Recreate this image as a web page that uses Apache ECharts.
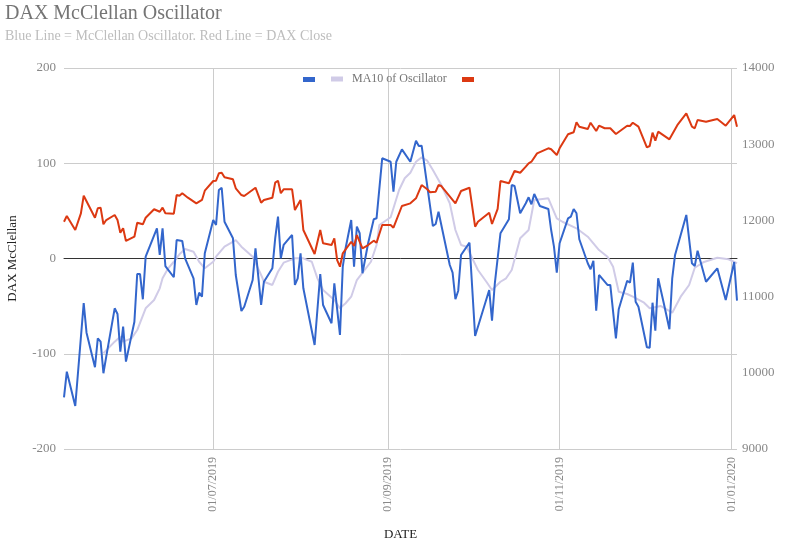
<!DOCTYPE html>
<html><head><meta charset="utf-8">
<script src="https://cdn.jsdelivr.net/npm/echarts@6/dist/echarts.min.js"></script>
<style>html,body{margin:0;padding:0;background:#fff}#c{width:786px;height:548px}</style>
</head><body><div id="c"></div>
<script>
const oscDates = [
'2019-05-09','2019-05-10','2019-05-13','2019-05-16','2019-05-17','2019-05-20','2019-05-21','2019-05-22','2019-05-23','2019-05-24',
'2019-05-27','2019-05-28','2019-05-29','2019-05-30','2019-05-31','2019-06-03','2019-06-04','2019-06-05','2019-06-06','2019-06-07',
'2019-06-11','2019-06-12','2019-06-13','2019-06-14','2019-06-17','2019-06-18','2019-06-20','2019-06-21','2019-06-24','2019-06-25',
'2019-06-26','2019-06-27','2019-06-28','2019-07-01','2019-07-02','2019-07-03','2019-07-04','2019-07-05','2019-07-08','2019-07-09',
'2019-07-11','2019-07-12','2019-07-15','2019-07-16','2019-07-18','2019-07-19','2019-07-22','2019-07-23','2019-07-24','2019-07-25',
'2019-07-26','2019-07-29','2019-07-30','2019-07-31','2019-08-01','2019-08-02','2019-08-06','2019-08-08','2019-08-09','2019-08-12',
'2019-08-13','2019-08-15','2019-08-16','2019-08-17','2019-08-19','2019-08-20','2019-08-21','2019-08-22','2019-08-23','2019-08-25',
'2019-08-27','2019-08-28','2019-08-30','2019-09-02','2019-09-03','2019-09-04','2019-09-06','2019-09-09','2019-09-11','2019-09-12',
'2019-09-13','2019-09-17','2019-09-18','2019-09-19','2019-09-23','2019-09-24','2019-09-25','2019-09-26','2019-09-27','2019-09-30',
'2019-10-02','2019-10-07','2019-10-08','2019-10-09','2019-10-11','2019-10-14','2019-10-15','2019-10-16','2019-10-18','2019-10-20',
'2019-10-21','2019-10-22','2019-10-23','2019-10-25','2019-10-28','2019-10-29','2019-10-30','2019-10-31','2019-11-01','2019-11-04',
'2019-11-05','2019-11-06','2019-11-07','2019-11-08','2019-11-11','2019-11-12','2019-11-13','2019-11-14','2019-11-15','2019-11-18',
'2019-11-19','2019-11-21','2019-11-22','2019-11-25','2019-11-26','2019-11-27','2019-11-28','2019-11-29','2019-12-02','2019-12-03',
'2019-12-04','2019-12-05','2019-12-06','2019-12-08','2019-12-10','2019-12-11','2019-12-12','2019-12-16','2019-12-18','2019-12-19',
'2019-12-20','2019-12-23','2019-12-27','2019-12-30','2020-01-02','2020-01-03'
];
const oscValues = [
-145.7,-118.8,-154.9,-46.7,-77.9,-114.2,-83.8,-87.3,-120.5,-103.1,
-52.3,-58.3,-97.8,-71.6,-108.3,-66.4,-16.3,-16.3,-42.8,1.9,
31.7,3.7,31.7,-7.9,-19.7,19.4,18.4,0.2,-20.8,-48.8,
-35.9,-40.1,5.5,40.4,35.2,71.9,74.3,38.6,21.2,-17.3,
-55.1,-50.6,-22.6,10.7,-48.8,-24.4,-10.3,21.2,43.9,0.2,
14.2,24.7,-27.8,-20.8,5.5,-31.3,-90.8,-16.3,-48.8,-68,
-26,-80.3,-8.6,10.8,40.4,-8.6,33.4,26.5,-15.5,16,
41.2,42.2,105.2,101.6,70.1,101.6,114.6,101.6,123.7,118.1,
118.4,34.1,36.2,49.1,-6.8,-14.9,-42.8,-33.8,3.7,16.6,
-81.4,-33.1,-65.3,-26,26.5,41.2,77.2,76.1,47.5,58,
64.3,56.9,67.7,55.1,52,29.9,12.4,-14.9,16,42.2,
43.9,52,47.5,20.2,-5,-11.3,-2.3,-54.8,-17.3,-27.8,
-27.8,-83.8,-53.3,-23.3,-25.4,-4.4,-45.4,-50.6,-93.2,-93.6,
-46.4,-75.8,-20.8,-47,-74.3,-20.8,3.7,45.7,-5,-7.9,
8.2,-24.4,-10.3,-43.6,-3.7,-44.3
];
const maDates = [
'2019-05-23','2019-05-27','2019-05-29','2019-05-30','2019-06-02','2019-06-04','2019-06-07','2019-06-10','2019-06-12','2019-06-13',
'2019-06-15','2019-06-17','2019-06-19','2019-06-21','2019-06-24','2019-06-26','2019-06-28','2019-07-01','2019-07-02','2019-07-05',
'2019-07-09','2019-07-11','2019-07-15','2019-07-18','2019-07-19','2019-07-22','2019-07-24','2019-07-26','2019-07-30','2019-08-02',
'2019-08-05','2019-08-07','2019-08-09','2019-08-13','2019-08-15','2019-08-17','2019-08-19','2019-08-21','2019-08-26','2019-08-28',
'2019-08-29','2019-09-02','2019-09-05','2019-09-07','2019-09-09','2019-09-11','2019-09-13','2019-09-15','2019-09-17','2019-09-20',
'2019-09-23','2019-09-25','2019-09-27','2019-09-29','2019-10-03','2019-10-06','2019-10-08','2019-10-11','2019-10-13','2019-10-15',
'2019-10-18','2019-10-21','2019-10-23','2019-10-26','2019-10-28','2019-10-31','2019-11-02','2019-11-07','2019-11-11','2019-11-15',
'2019-11-18','2019-11-20','2019-11-22','2019-11-25','2019-11-27','2019-12-01','2019-12-03','2019-12-07','2019-12-11','2019-12-14',
'2019-12-17','2019-12-19','2019-12-22','2019-12-27','2019-12-31','2020-01-03'
];
const maValues = [
-99.5,-87.3,-82.1,-87.3,-83.8,-75.1,-52.3,-43.6,-31.3,-20.8,
-10.3,-3.4,4.4,10,7.1,-3.4,-10.3,-3.4,1.9,12.4,
19.4,12.4,1.9,-17.3,-24.4,-27.8,-13.9,-4.4,0.2,0.2,
-3.4,-20.8,-33.1,-43.6,-52.3,-47,-40.1,-22.6,-3.4,14.2,
35.2,43.3,71.9,84.2,90.1,101.6,106.2,102.7,92.9,77.2,
58,29.9,14.2,12.4,-12.1,-24.4,-33.1,-24.4,-20.8,-12.1,
21.2,29.9,61.4,62.5,63.2,42.2,38.6,31.7,22.9,8.9,
1.9,-8.6,-34.9,-37.3,-40.1,-46.4,-52.3,-49.9,-56.9,-40.1,
-27.8,-9.7,-4,0.8,-0.8,-5
];
const daxDates = [
'2019-05-09','2019-05-10','2019-05-13','2019-05-15','2019-05-16','2019-05-20','2019-05-21','2019-05-22','2019-05-23','2019-05-24',
'2019-05-27','2019-05-28','2019-05-29','2019-05-30','2019-05-31','2019-06-03','2019-06-04','2019-06-05','2019-06-06','2019-06-07',
'2019-06-10','2019-06-12','2019-06-13','2019-06-14','2019-06-17','2019-06-18','2019-06-19','2019-06-20','2019-06-22','2019-06-25',
'2019-06-27','2019-06-28','2019-07-01','2019-07-02','2019-07-03','2019-07-04','2019-07-05','2019-07-08','2019-07-09','2019-07-11',
'2019-07-12','2019-07-16','2019-07-18','2019-07-19','2019-07-22','2019-07-23','2019-07-24','2019-07-25','2019-07-26','2019-07-29',
'2019-07-30','2019-08-01','2019-08-02','2019-08-06','2019-08-08','2019-08-09','2019-08-12','2019-08-13','2019-08-14','2019-08-15',
'2019-08-16','2019-08-19','2019-08-20','2019-08-21','2019-08-23','2019-08-25','2019-08-27','2019-08-28','2019-08-30','2019-09-02',
'2019-09-03','2019-09-06','2019-09-09','2019-09-11','2019-09-13','2019-09-15','2019-09-16','2019-09-18','2019-09-19','2019-09-20',
'2019-09-25','2019-09-27','2019-09-30','2019-10-02','2019-10-03','2019-10-07','2019-10-08','2019-10-10','2019-10-11','2019-10-14',
'2019-10-16','2019-10-18','2019-10-20','2019-10-21','2019-10-22','2019-10-24','2019-10-28','2019-10-29','2019-10-31','2019-11-01',
'2019-11-04','2019-11-06','2019-11-07','2019-11-08','2019-11-11','2019-11-12','2019-11-14','2019-11-15','2019-11-17','2019-11-19',
'2019-11-21','2019-11-25','2019-11-26','2019-11-27','2019-11-29','2019-12-02','2019-12-03','2019-12-04','2019-12-05','2019-12-06',
'2019-12-10','2019-12-13','2019-12-16','2019-12-18','2019-12-19','2019-12-20','2019-12-23','2019-12-27','2019-12-30','2020-01-02',
'2020-01-03'
];
const daxValues = [
11983,12058,11874,12093,12324,12035,12159,12167,11949,12005,
12071,12005,11839,11896,11730,11786,11970,11960,11949,12035,
12146,12114,12167,12093,12088,12333,12324,12356,12298,12224,
12268,12390,12517,12521,12618,12626,12566,12539,12421,12333,
12320,12429,12232,12268,12298,12495,12521,12356,12408,12408,
12136,12268,11874,11559,11874,11699,11677,11765,11480,11392,
11568,11720,11664,11808,11634,11677,11734,11707,11940,11940,
11904,12189,12224,12290,12464,12408,12369,12377,12464,12451,
12224,12386,12429,11917,11983,12101,11953,12150,12517,12487,
12648,12626,12705,12749,12770,12880,12946,12933,12858,12946,
13130,13156,13287,13230,13199,13282,13173,13243,13209,13209,
13134,13243,13239,13282,13230,12959,12976,13151,13046,13164,
13064,13261,13405,13230,13209,13317,13295,13331,13243,13383,
13230
];
const dateTicks = ['2019-07-01','2019-09-01','2019-11-01','2020-01-01'];
const leftTicks = [-200,-100,0,100,200];
const rightTicks = [9000,10000,11000,12000,13000,14000];

const ts = s => echarts.number.parseDate(s).getTime();
const pad = n => (n < 10 ? '0' : '') + n;
const FONT = 'Liberation Serif';
const pairs = (d, v) => d.map((x, i) => [ts(x), v[i]]);
const xMin = ts(daxDates[0]), xMax = ts(daxDates[daxDates.length - 1]);
const tickTs = dateTicks.map(ts);

const chart = echarts.init(document.getElementById('c'), null, {renderer: 'canvas'});
const legendBase = {
  icon: 'rect', itemWidth: 12, itemHeight: 5, selectedMode: false, padding: 0,
  textStyle: {fontFamily: FONT, fontSize: 12, color: '#757575'}
};
chart.setOption({
  animation: false,
  backgroundColor: '#ffffff',
  title: {
    text: 'DAX McClellan Oscillator',
    subtext: 'Blue Line = McClellan Oscillator. Red Line = DAX Close',
    left: 5, top: 4, padding: 0, itemGap: 5,
    textStyle: {fontFamily: FONT, fontSize: 20, fontWeight: 'normal', color: '#757575'},
    subtextStyle: {fontFamily: FONT, fontSize: 14, color: '#bdbdbd'}
  },
  legend: [
    Object.assign({}, legendBase, {data: ['Oscillator'], left: 303, top: 77, formatter: () => ''}),
    Object.assign({}, legendBase, {data: ['MA10 of Oscillator'], left: 331, top: 73,
      textStyle: {fontFamily: FONT, fontSize: 12, color: '#757575', padding: [0, 0, 0, 4]}}),
    Object.assign({}, legendBase, {data: ['DAX Close'], left: 462, top: 77, formatter: () => ''})
  ],
  grid: {left: 64, right: 49, top: 68, bottom: 99, containLabel: false, outerBoundsMode: 'none'},
  xAxis: [{
    type: 'value', min: xMin, max: xMax, scale: true,
    name: 'DATE', nameLocation: 'middle', nameGap: 79,
    nameTextStyle: {fontFamily: FONT, fontSize: 13, color: '#222'},
    axisLine: {show: false},
    axisTick: {show: false, customValues: tickTs},
    axisLabel: {
      customValues: tickTs, rotate: 90, margin: 8,
      fontFamily: FONT, fontSize: 12, color: '#888',
      formatter: v => { const d = new Date(v); return pad(d.getDate()) + '/' + pad(d.getMonth() + 1) + '/' + d.getFullYear(); }
    },
    splitLine: {show: true, lineStyle: {color: '#cccccc', width: 1}}
  }, {
    type: 'value', min: xMin, max: xMax, scale: true,
    axisLine: {show: true, onZero: true, onZeroAxisIndex: 0, lineStyle: {color: '#333333', width: 1}},
    axisTick: {show: false}, axisLabel: {show: false}, splitLine: {show: false}
  }],
  yAxis: [{
    type: 'value', position: 'left',
    min: leftTicks[0], max: leftTicks[leftTicks.length - 1], interval: leftTicks[1] - leftTicks[0],
    name: 'DAX McClellan', nameLocation: 'middle', nameGap: 45,
    nameTextStyle: {fontFamily: FONT, fontSize: 13, color: '#222'},
    axisLine: {show: false}, axisTick: {show: false},
    axisLabel: {fontFamily: FONT, fontSize: 13, color: '#888', margin: 8},
    splitLine: {show: true, lineStyle: {color: '#cccccc', width: 1}}
  }, {
    type: 'value', position: 'right',
    min: rightTicks[0], max: rightTicks[rightTicks.length - 1], interval: rightTicks[1] - rightTicks[0],
    axisLine: {show: false}, axisTick: {show: false},
    axisLabel: {fontFamily: FONT, fontSize: 13, color: '#888', margin: 5, formatter: v => String(v)},
    splitLine: {show: false}
  }],
  series: [
    {name: 'Oscillator', type: 'line', xAxisIndex: 0, yAxisIndex: 0, data: pairs(oscDates, oscValues),
     showSymbol: false, symbol: 'none', z: 3, color: '#3366cc', lineStyle: {color: '#3366cc', width: 2}},
    {name: 'MA10 of Oscillator', type: 'line', xAxisIndex: 0, yAxisIndex: 0, data: pairs(maDates, maValues),
     showSymbol: false, symbol: 'none', z: 2, color: '#d0cbe7', lineStyle: {color: '#d0cbe7', width: 2}},
    {name: 'DAX Close', type: 'line', xAxisIndex: 0, yAxisIndex: 1, data: pairs(daxDates, daxValues),
     showSymbol: false, symbol: 'none', z: 4, color: '#dc3912', lineStyle: {color: '#dc3912', width: 2}}
  ]
});
</script></body></html>
